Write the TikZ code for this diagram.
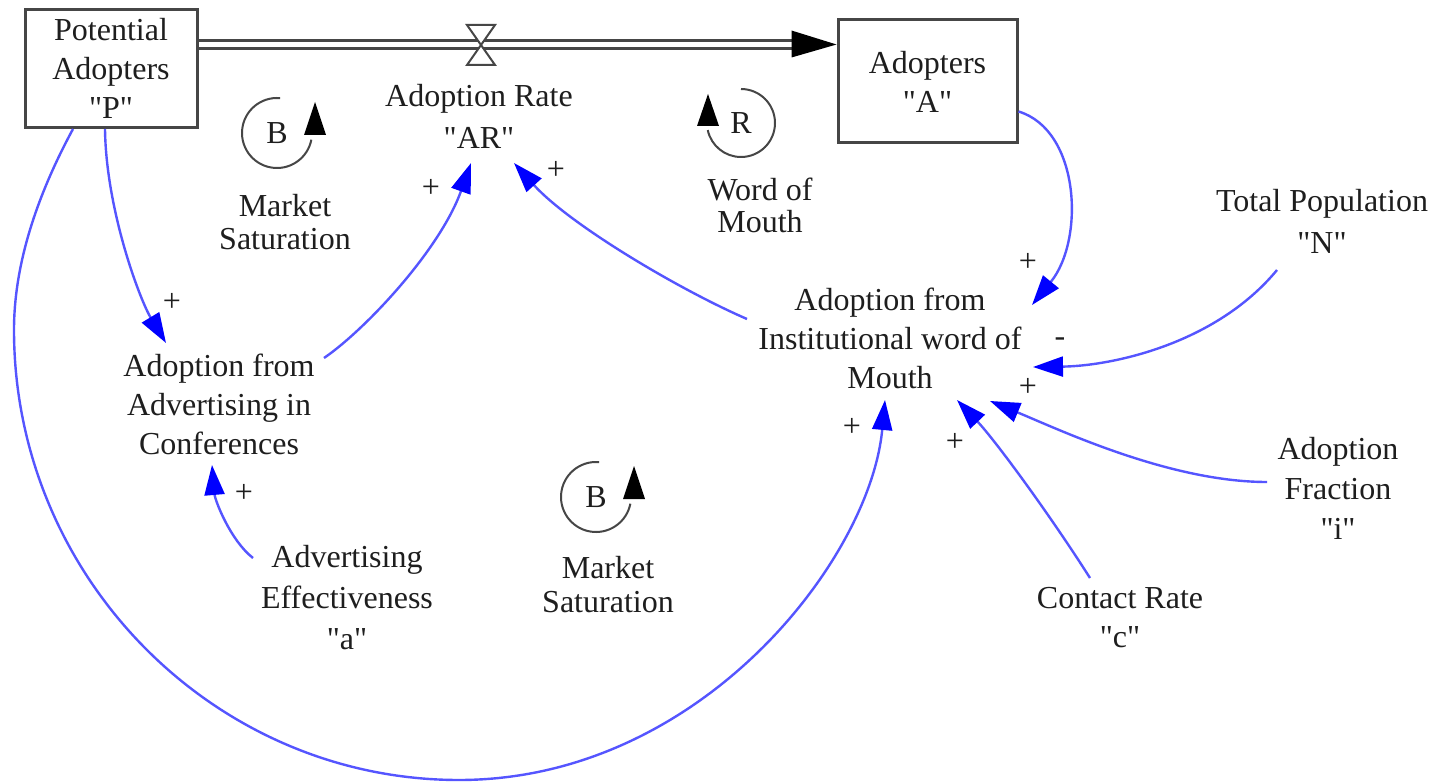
\documentclass[tikz,border=0pt]{standalone}
\usepackage{fontspec}
\setmainfont{Liberation Serif}[Ligatures=TeXOff]
\usetikzlibrary{arrows.meta,calc}
\definecolor{linkblue}{RGB}{85,85,255}
\definecolor{tipblue}{RGB}{0,0,255}
\definecolor{ink}{RGB}{30,30,30}
\definecolor{boxgray}{RGB}{70,70,70}

\begin{document}
\begin{tikzpicture}[x=1pt,y=-1pt,
  lbl/.style={font=\fontsize{32}{39}\selectfont, align=center, text=ink, inner sep=0pt},
  stock/.style={lbl, draw=boxgray, line width=3pt, fill=white, minimum width=172pt, minimum height=118pt},
  link/.style={draw=linkblue, line width=2.4pt, -{Triangle[length=30pt,width=20pt,color=tipblue]}},
  sign/.style={font=\fontsize{32}{32}\selectfont, text=ink, inner sep=0pt},
  loopline/.style={draw=boxgray, line width=2pt},
  pipe/.style={draw=boxgray, line width=3pt}
]
\useasboundingbox (0,0) rectangle (1443,783);
\fill[white] (0,0) rectangle (1443,783);

% stocks
\node[stock] (P) at (111,68.5) {Potential\\Adopters\\"P"};
\node[stock, minimum width=179pt, minimum height=123pt] (A) at (927.5,81.5) {Adopters\\"A"};

% flow pipe with valve
\draw[pipe] ($(P.north east)+(0,32.5)$) -- ($(A.north west)+(-43,22)$);
\draw[pipe] ($(P.north east)+(0,40.5)$) -- ($(A.north west)+(-43,30)$);
\fill[black] ($(A.north west)+(0,26)$) -- ($(A.north west)+(-45,12)$) -- ($(A.north west)+(-45,39)$) -- cycle;
\coordinate (V) at (481,45);
\draw[loopline, fill=white] ($(V)+(-14,-20)$) -- ($(V)+(14,-20)$) -- ($(V)+(-14,20)$) -- ($(V)+(14,20)$) -- cycle;

% variables
\node[lbl, font=\fontsize{32}{42}\selectfont] (AR) at (479,116) {Adoption Rate\\"AR"};
\node[lbl] (AAC) at (219,404) {Adoption from\\Advertising in\\Conferences};
\node[lbl] (AIW) at (890,338) {Adoption from\\Institutional word of\\Mouth};
\node[lbl, font=\fontsize{32}{42}\selectfont] (N) at (1322,221) {Total Population\\"N"};
\node[lbl, font=\fontsize{32}{41}\selectfont] (EA) at (347,598) {Advertising\\Effectiveness\\"a"};
\node[lbl, font=\fontsize{32}{40}\selectfont] (FI) at (1338,488) {Adoption\\Fraction\\"i"};
\node[lbl] (CR) at (1120,618) {Contact Rate\\"c"};

% feedback loop markers
\coordinate (B1) at (277,133);
\node[lbl] (B1t) at (B1) {B};
\draw[loopline] ($(B1)+(85:35pt)$) arc[start angle=85, end angle=349, radius=35pt];
\fill[black] ($(B1)+(38,-31)$) -- ($(B1)+(27,2)$) -- ($(B1)+(49,2)$) -- cycle;
\node[lbl, font=\fontsize{32}{33}\selectfont] (MS1) at (285,222) {Market\\Saturation};

\coordinate (R) at (741,123);
\node[lbl] (Rt) at (R) {R};
\draw[loopline] ($(R)+(90:34pt)$) arc[start angle=90, end angle=-168, radius=34pt];
\fill[black] ($(R)+(-33,-29)$) -- ($(R)+(-44,3)$) -- ($(R)+(-22,3)$) -- cycle;
\node[lbl, font=\fontsize{32}{32}\selectfont] (WOM) at (760,205) {Word of\\Mouth};

\coordinate (B2) at (596,497);
\node[lbl] (B2t) at (B2) {B};
\draw[loopline] ($(B2)+(85:35pt)$) arc[start angle=85, end angle=349, radius=35pt];
\fill[black] ($(B2)+(38,-31)$) -- ($(B2)+(27,2)$) -- ($(B2)+(49,2)$) -- cycle;
\node[lbl, font=\fontsize{32}{34}\selectfont] (MS2) at (608,585) {Market\\Saturation};

% causal links
\draw[link] ($(P.south)+(-6,0)$) .. controls (106,210) and (140,300) .. ($(AAC)+(-53,-61)$);
\draw[link] ($(AAC)+(105,-46)$) .. controls (365,330) and (440,250) .. ($(AR)+(-8,47)$);
\draw[link] ($(AIW)+(-143,-19)$) .. controls (680,290) and (570,225) .. ($(AR)+(35,47)$);
\draw[link] ($(A.east)+(0,30)$) .. controls (1080,130) and (1085,240) .. ($(AIW)+(142,-33)$);
\draw[link] ($(N)+(-45,49)$) .. controls (1215,345) and (1110,366) .. ($(AIW)+(143,29)$);
\draw[link] ($(FI)+(-71,-6)$) .. controls (1170,482) and (1060,430) .. ($(AIW)+(100,63)$);
\draw[link] ($(CR)+(-30,-40)$) .. controls (1050,515) and (995,440) .. ($(AIW)+(67,62)$);
\draw[link] ($(EA)+(-94,-40)$) .. controls (230,540) and (215,500) .. ($(AAC)+(-7,61)$);
\draw[link] ($(P.south)+(-38,0)$) .. controls (40,190) and (14,260) .. (14,330)
  .. controls (14,577) and (214,780) .. (459,780)
  .. controls (700,780) and (870,560) .. ($(AIW)+(-5,62)$);

% link polarities
\node[sign] (s1) at (172,302) {+};
\node[sign] (s2) at (431,188) {+};
\node[sign] (s3) at (556,170) {+};
\node[sign] (s4) at (1028,262) {+};
\node[sign] (s5) at (1060,342) {-};
\node[sign] (s6) at (1028,387) {+};
\node[sign] (s7) at (955,442) {+};
\node[sign] (s8) at (852,427) {+};
\node[sign] (s9) at (244,493) {+};
\end{tikzpicture}
\end{document}
